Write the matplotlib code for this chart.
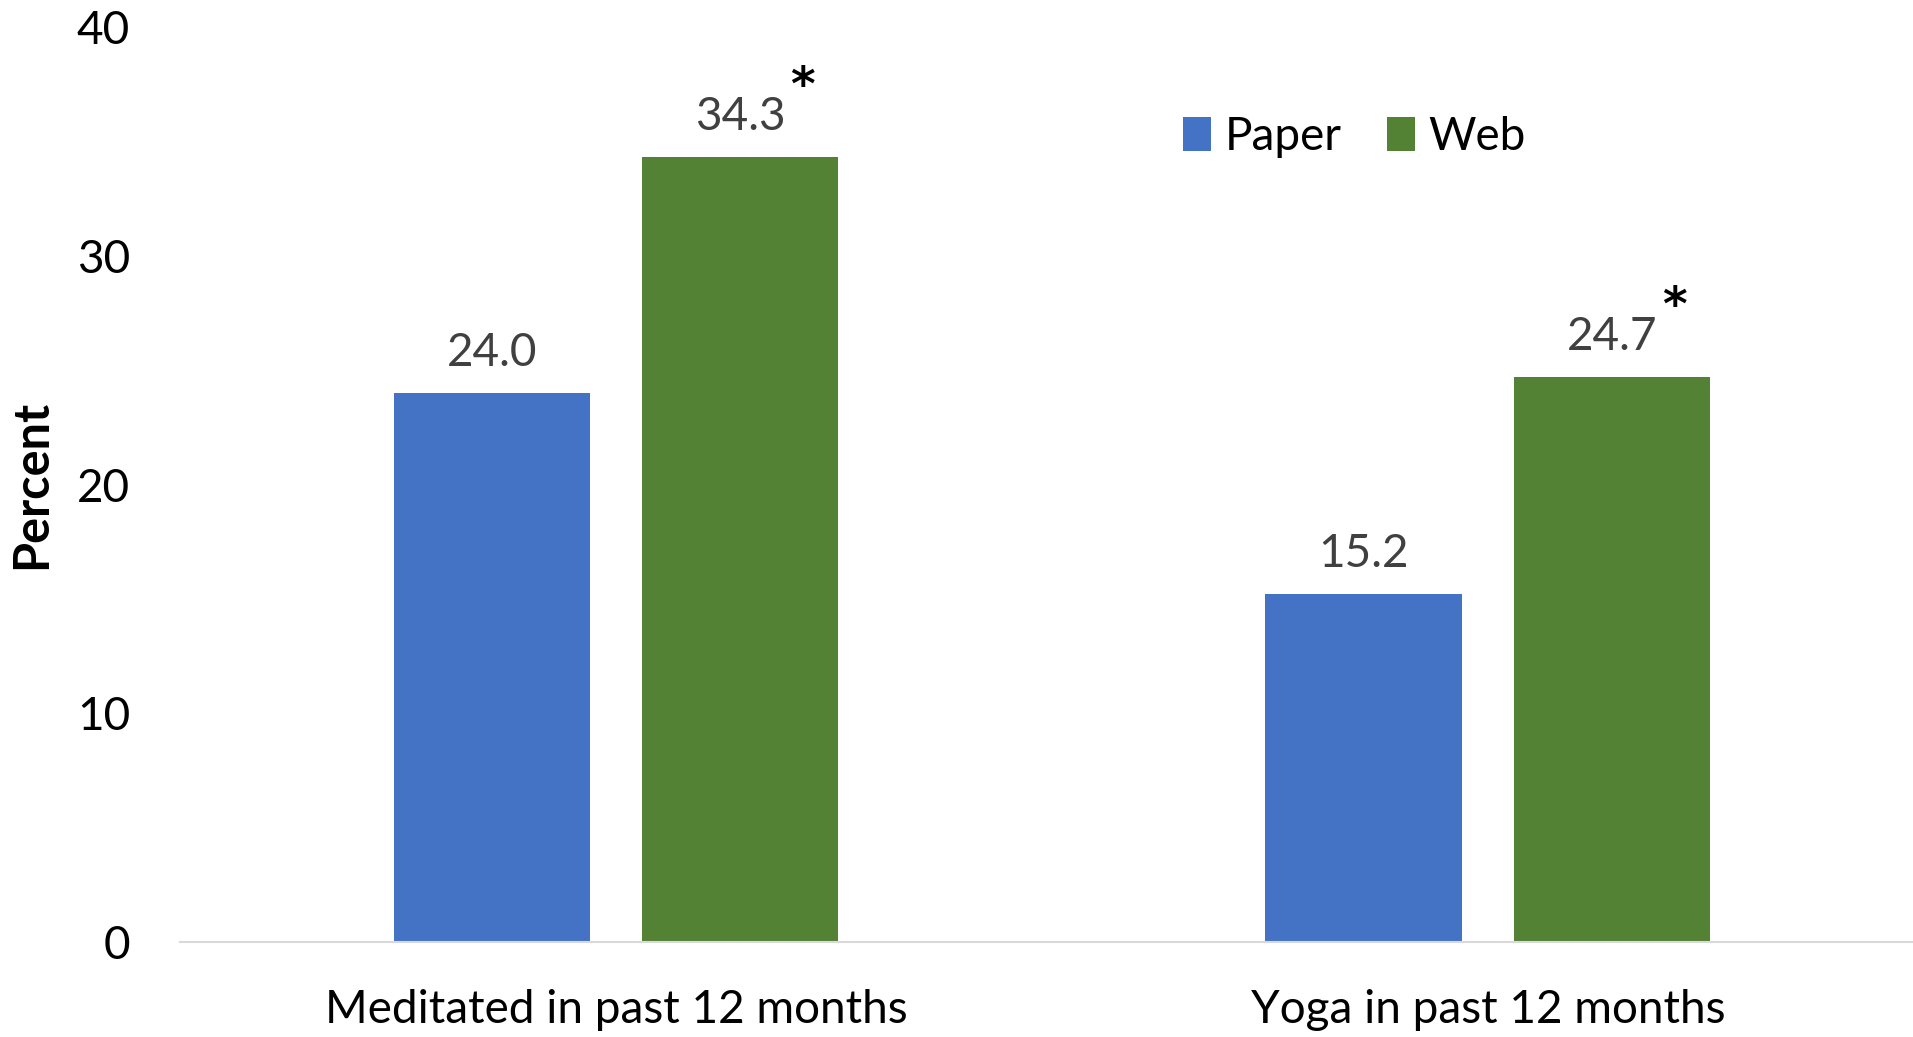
import matplotlib
matplotlib.use("Agg")
import matplotlib.pyplot as plt
import numpy as np

plt.rcParams['font.family'] = ['Lato', 'DejaVu Sans']

# data
categories = ["Meditated in past 12 months", "Yoga in past 12 months"]
paper = [24.0, 15.2]
web = [34.3, 24.7]
web_significant = [True, True]

blue = "#4472C4"
green = "#548235"

fig = plt.figure(figsize=(19.13, 10.37), dpi=100)
ax = fig.add_axes([180 / 1913, 1 - 942 / 1037, 1 - 180 / 1913, (942 - 27) / 1037])

x = np.arange(len(categories))
w = 0.225
off = 0.1425
ax.bar(x - off, paper, w, color=blue, label="Paper")
ax.bar(x + off, web, w, color=green, label="Web")

# value labels
for xi, v in zip(x - off, paper):
    ax.annotate(f"{v:.1f}", (xi, v), xytext=(0, 14), textcoords="offset points",
                ha="center", va="bottom", fontsize=33, color="#404040")
for xi, v, sig in zip(x + off, web, web_significant):
    ax.annotate(f"{v:.1f}", (xi, v), xytext=(0, 14), textcoords="offset points",
                ha="center", va="bottom", fontsize=33, color="#404040")
    if sig:
        # significance marker
        ax.annotate("*", (xi, v), xytext=(45, 50), textcoords="offset points",
                    ha="center", va="center", fontsize=34, fontweight="bold",
                    color="black", family="DejaVu Sans")

ax.set_ylim(0, 40)
ax.set_xlim(-0.5, 1.4877)
ax.set_yticks([0, 10, 20, 30, 40])
ax.set_xticks(x)
ax.set_xticklabels(categories)
ax.tick_params(axis="y", length=0, pad=36, labelsize=33)
ax.tick_params(axis="x", length=0, pad=34, labelsize=33)
ax.set_ylabel("Percent", fontsize=35, fontweight="bold", labelpad=16)

for s in ["top", "right", "left"]:
    ax.spines[s].set_visible(False)
ax.spines["bottom"].set_color("#D9D9D9")
ax.spines["bottom"].set_linewidth(1.5)

fig.legend(loc="center", bbox_to_anchor=(0.708, 0.868), ncol=2, frameon=False,
           fontsize=33, handlelength=0.6, handleheight=0.75, handletextpad=0.3,
           columnspacing=1.0)

fig.savefig("out.png", dpi=100)
